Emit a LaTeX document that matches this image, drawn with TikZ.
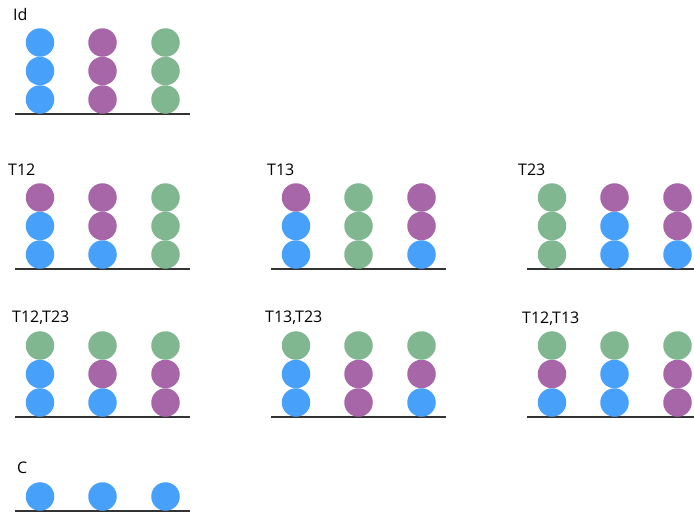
\documentclass[tikz,border=0pt]{standalone}
\usepackage{fontspec}
\setmainfont{Open Sans}
\usepackage{tikz}
\usetikzlibrary{positioning}

\definecolor{beadblue}{RGB}{71,160,250}
\definecolor{beadpurple}{RGB}{167,102,168}
\definecolor{beadgreen}{RGB}{128,183,145}
\definecolor{floorgray}{RGB}{51,51,51}

% one stack of three beads: name, x, floor y, colours bottom to top
\newcommand{\tower}[6]{%
  \node[bead,fill=#4] (#1a) at (#2,{#3-14.5}) {};
  \node[bead,fill=#5,above=0pt of #1a] (#1b) {};
  \node[bead,fill=#6,above=0pt of #1b] (#1c) {};
}
% floor line under a panel: name, x offset, y
\newcommand{\floorline}[3]{%
  \coordinate (#1l) at ({#2+15},#3);
  \coordinate (#1r) at ({#2+190},#3);
  \draw[floor] (#1l) -- (#1r);
}

\begin{document}
\begin{tikzpicture}[
  x=1pt,y=-1pt,
  bead/.style={circle,minimum size=28.5pt,inner sep=0pt,outer sep=0pt},
  lbl/.style={anchor=base west,inner sep=0pt,font=\fontsize{16}{16}\selectfont},
  floor/.style={draw=floorgray,line width=1.6pt}
]
\useasboundingbox (0,0) rectangle (694,514);

% Id
\node[lbl] (id) at (13,20) {Id};
\floorline{id}{0}{114}
\tower{id1}{40}{114}{beadblue}{beadblue}{beadblue}
\tower{id2}{102.5}{114}{beadpurple}{beadpurple}{beadpurple}
\tower{id3}{165.5}{114}{beadgreen}{beadgreen}{beadgreen}

% T12
\node[lbl] (t12) at (8,175) {T12};
\floorline{t12}{0}{269}
\tower{t12x}{40}{269}{beadblue}{beadblue}{beadpurple}
\tower{t12y}{102.5}{269}{beadblue}{beadpurple}{beadpurple}
\tower{t12z}{165.5}{269}{beadgreen}{beadgreen}{beadgreen}

% T13
\node[lbl] (t13) at (267,175) {T13};
\floorline{t13}{256}{269}
\tower{t13x}{296}{269}{beadblue}{beadblue}{beadpurple}
\tower{t13y}{358.5}{269}{beadgreen}{beadgreen}{beadgreen}
\tower{t13z}{421.5}{269}{beadblue}{beadpurple}{beadpurple}

% T23
\node[lbl] (t23) at (518,175) {T23};
\floorline{t23}{512}{269}
\tower{t23x}{552}{269}{beadgreen}{beadgreen}{beadgreen}
\tower{t23y}{614.5}{269}{beadblue}{beadblue}{beadpurple}
\tower{t23z}{677.5}{269}{beadblue}{beadpurple}{beadpurple}

% T12,T23
\node[lbl] (t12t23) at (12,322) {T12,T23};
\floorline{t12t23}{0}{417}
\tower{t12t23x}{40}{417}{beadblue}{beadblue}{beadgreen}
\tower{t12t23y}{102.5}{417}{beadblue}{beadpurple}{beadgreen}
\tower{t12t23z}{165.5}{417}{beadpurple}{beadpurple}{beadgreen}

% T13,T23
\node[lbl] (t13t23) at (265,322) {T13,T23};
\floorline{t13t23}{256}{417}
\tower{t13t23x}{296}{417}{beadblue}{beadblue}{beadgreen}
\tower{t13t23y}{358.5}{417}{beadpurple}{beadpurple}{beadgreen}
\tower{t13t23z}{421.5}{417}{beadblue}{beadpurple}{beadgreen}

% T12,T13
\node[lbl] (t12t13) at (522,323) {T12,T13};
\floorline{t12t13}{512}{417}
\tower{t12t13x}{552}{417}{beadblue}{beadpurple}{beadgreen}
\tower{t12t13y}{614.5}{417}{beadblue}{beadblue}{beadgreen}
\tower{t12t13z}{677.5}{417}{beadpurple}{beadpurple}{beadgreen}

% C
\node[lbl] (c) at (17,473) {C};
\floorline{c}{0}{511}
\node[bead,fill=beadblue] (c1) at (40,496.5) {};
\node[bead,fill=beadblue] (c2) at (102.5,496.5) {};
\node[bead,fill=beadblue] (c3) at (165.5,496.5) {};
\end{tikzpicture}
\end{document}
